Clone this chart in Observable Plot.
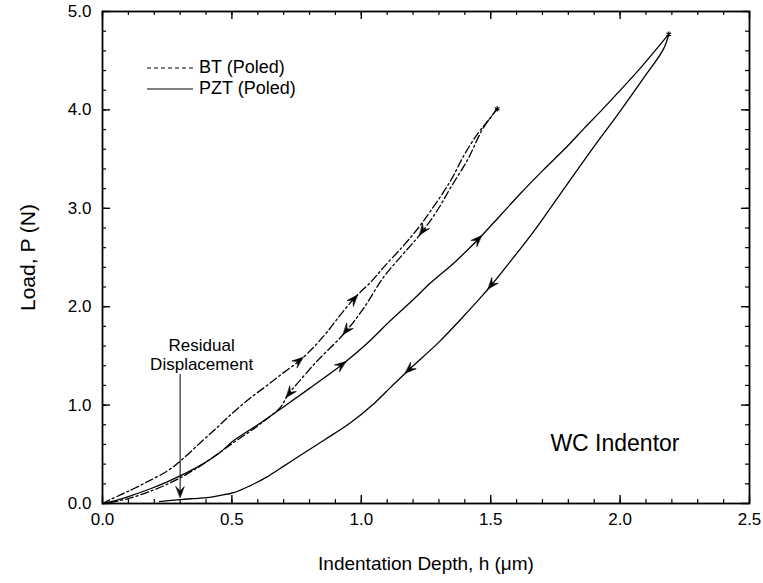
<!DOCTYPE html>
<html><head><meta charset="utf-8">
<script src="https://cdn.jsdelivr.net/npm/d3@7"></script>
<script src="https://cdn.jsdelivr.net/npm/@observablehq/plot@0.6"></script>
<style>
body{margin:0;background:#fff;}
#wrap{position:relative;width:763px;height:583px;font-family:"Liberation Sans",Arial,Helvetica,sans-serif;}
#legend{position:absolute;left:147px;top:57px;font-size:18px;line-height:21px;color:#000;}
#legend div{display:flex;align-items:center;height:21px;}
#legend svg{margin-right:6px;}
</style></head><body><div id="wrap"><div id="legend"></div></div>
<script>
// ---- data ----
const btLoadH = [0, 0.03, 0.08, 0.12, 0.18, 0.25, 0.30, 0.379, 0.45, 0.507, 0.57, 0.636, 0.70, 0.765, 0.82, 0.87, 0.92, 0.978, 1.04, 1.086, 1.163, 1.22, 1.267, 1.345, 1.395, 1.45, 1.493, 1.525];
const btLoadP = [0, 0.04, 0.10, 0.15, 0.23, 0.33, 0.43, 0.62, 0.79, 0.93, 1.07, 1.20, 1.33, 1.46, 1.60, 1.75, 1.92, 2.10, 2.26, 2.40, 2.62, 2.80, 2.97, 3.28, 3.53, 3.76, 3.90, 4.01];
const btUnloadH = [1.525, 1.472, 1.41, 1.345, 1.294, 1.229, 1.163, 1.086, 1.008, 0.931, 0.83, 0.753, 0.715, 0.688, 0.60, 0.507, 0.40, 0.30, 0.20, 0.10, 0.03];
const btUnloadP = [4.01, 3.82, 3.49, 3.21, 2.98, 2.74, 2.54, 2.30, 1.98, 1.72, 1.45, 1.22, 1.10, 0.98, 0.79, 0.62, 0.42, 0.26, 0.14, 0.05, 0.01];
const pztLoadH = [0, 0.05, 0.10, 0.185, 0.25, 0.30, 0.38, 0.45, 0.507, 0.60, 0.688, 0.80, 0.93, 1.02, 1.113, 1.20, 1.267, 1.36, 1.45, 1.538, 1.615, 1.70, 1.80, 1.86, 1.93, 1.99, 2.08, 2.188];
const pztLoadP = [0, 0.03, 0.07, 0.15, 0.22, 0.28, 0.39, 0.51, 0.64, 0.80, 0.96, 1.17, 1.42, 1.62, 1.86, 2.07, 2.24, 2.45, 2.68, 2.93, 3.15, 3.38, 3.64, 3.81, 4.00, 4.17, 4.43, 4.77];
const pztUnloadH = [2.188, 2.168, 2.09, 1.99, 1.897, 1.77, 1.665, 1.564, 1.50, 1.46, 1.38, 1.30, 1.18, 1.113, 1.055, 0.958, 0.86, 0.765, 0.70, 0.636, 0.57, 0.507, 0.45, 0.405, 0.35, 0.30, 0.22];
const pztUnloadP = [4.77, 4.62, 4.32, 3.95, 3.62, 3.15, 2.76, 2.42, 2.21, 2.09, 1.86, 1.64, 1.35, 1.18, 1.03, 0.82, 0.65, 0.49, 0.38, 0.27, 0.18, 0.11, 0.08, 0.06, 0.05, 0.04, 0.02];

// direction arrowheads: which curve, depth of the arrow tip
const arrowCurve = ["btLoad", "btLoad", "btUnload", "btUnload", "btUnload", "pztLoad", "pztLoad", "pztUnload", "pztUnload"];
const arrowH = [0.775, 0.985, 1.225, 0.93, 0.71, 0.94, 1.465, 1.49, 1.17];

const xTicks = [0, 0.5, 1.0, 1.5, 2.0, 2.5];
const yTicks = [0, 1, 2, 3, 4, 5];
const xMinor = d3.range(0, 2.5001, 0.1);
const yMinor = d3.range(0, 5.0001, 0.2);

const seriesNames = ["BT (Poled)", "PZT (Poled)"];
const residualText = "Residual\nDisplacement";
const residualTextH = 0.383, residualTextP = 1.36;
const residualH = 0.30, residualP1 = 1.31, residualP2 = 0.06;
const indentorText = "WC Indentor";
const indentorH = 1.98, indentorP = 0.61;

// ---- build tables ----
const W = 763, H = 583, mL = 102, mR = 14, mT = 11, mB = 80;
const innerW = W - mL - mR, innerH = H - mT - mB;
const xDomain = [0, 2.5], yDomain = [0, 5];
const kx = innerW / (xDomain[1] - xDomain[0]), ky = innerH / (yDomain[1] - yDomain[0]);

const zip = (hs, ps, c) => hs.map((h, i) => ({h, p: ps[i], c}));
const btRows = [...zip(btLoadH, btLoadP, "load"), ...zip(btUnloadH, btUnloadP, "unload")];
const pztRows = [...zip(pztLoadH, pztLoadP, "load"), ...zip(pztUnloadH, pztUnloadP, "unload")];
const curves = {
  btLoad: [btLoadH, btLoadP], btUnload: [btUnloadH, btUnloadP],
  pztLoad: [pztLoadH, pztLoadP], pztUnload: [pztUnloadH, pztUnloadP]
};
const arrows = arrowH.map((h, i) => {
  const [hs, ps] = curves[arrowCurve[i]];
  const f = d3.scaleLinear().domain(hs).range(ps);
  const back = arrowCurve[i].endsWith("Unload") ? 0.04 : -0.04; // travel direction
  const p = f(h), pb = f(h + back);
  const dxp = (h - (h + back)) * kx, dyp = -(p - pb) * ky;
  const rot = Math.atan2(dxp, -dyp) * 180 / Math.PI;
  return {h, p, rot};
});
const peaks = [{h: btLoadH.at(-1), p: btLoadP.at(-1)}, {h: pztLoadH.at(-1), p: pztLoadP.at(-1)}];

// barbed, filled arrowhead drawn with the tip at the anchor point
const headShape = {
  draw(context, l) {
    context.moveTo(0, -l);
    context.lineTo(-4.2, 0);
    context.lineTo(0, -l * 0.4);
    context.lineTo(4.2, 0);
    context.closePath();
  }
};

const fmt = d3.format(".1f");
const font = "Liberation Sans, Arial, Helvetica, sans-serif";

const chart = Plot.plot({
  width: W, height: H,
  marginLeft: mL, marginRight: mR, marginTop: mT, marginBottom: mB,
  style: {fontFamily: font, background: "white", color: "black"},
  x: {domain: xDomain},
  y: {domain: yDomain},
  marks: [
    Plot.axisX({ticks: xTicks, tickSize: 0, tickPadding: 9, tickFormat: fmt, fontSize: 17, label: null}),
    Plot.axisY({ticks: yTicks, tickSize: 0, tickPadding: 11, tickFormat: fmt, fontSize: 17, label: null}),
    // inward ticks on all four sides
    Plot.tickX(xMinor, {x: d => d, insetTop: innerH - 4, stroke: "black", strokeWidth: 1.2}),
    Plot.tickX(xMinor, {x: d => d, insetBottom: innerH - 4, stroke: "black", strokeWidth: 1.2}),
    Plot.tickX(xTicks, {x: d => d, insetTop: innerH - 8, stroke: "black", strokeWidth: 1.4}),
    Plot.tickX(xTicks, {x: d => d, insetBottom: innerH - 8, stroke: "black", strokeWidth: 1.4}),
    Plot.tickY(yMinor, {y: d => d, insetRight: innerW - 4, stroke: "black", strokeWidth: 1.2}),
    Plot.tickY(yMinor, {y: d => d, insetLeft: innerW - 4, stroke: "black", strokeWidth: 1.2}),
    Plot.tickY(yTicks, {y: d => d, insetRight: innerW - 8, stroke: "black", strokeWidth: 1.4}),
    Plot.tickY(yTicks, {y: d => d, insetLeft: innerW - 8, stroke: "black", strokeWidth: 1.4}),
    // curves
    Plot.line(btRows, {x: "h", y: "p", z: "c", stroke: "black", strokeWidth: 1.3, strokeDasharray: "8,3,2,3", curve: "catmull-rom"}),
    Plot.line(pztRows, {x: "h", y: "p", z: "c", stroke: "black", strokeWidth: 1.3, curve: "catmull-rom"}),
    Plot.dot(peaks, {x: "h", y: "p", symbol: "asterisk", r: 2.5, stroke: "black", strokeWidth: 1.2}),
    Plot.vector(arrows, {x: "h", y: "p", rotate: "rot", length: 11, anchor: "end", shape: headShape, fill: "black", stroke: "black", strokeWidth: 0.6}),
    // annotations
    Plot.text([residualText], {x: residualTextH, y: residualTextP, text: d => d, lineAnchor: "bottom", fontSize: 17, lineHeight: 1.12, fill: "black"}),
    Plot.ruleX([residualH], {y1: residualP1, y2: residualP2 + 0.05, stroke: "black", strokeWidth: 1}),
    Plot.vector([0], {x: residualH, y: residualP2, rotate: 180, length: 11, anchor: "end", shape: headShape, fill: "black", stroke: "black", strokeWidth: 0.6}),
    Plot.text([indentorText], {x: indentorH, y: indentorP, text: d => d, fontSize: 23, fill: "black"}),
    // axis titles
    Plot.text(["Indentation Depth, h (\u03bcm)"], {frameAnchor: "bottom", dy: 66, fontSize: 19, fill: "black"}),
    Plot.text(["Load, P (N)"], {frameAnchor: "left", dx: -74, rotate: -90, textAnchor: "middle", fontSize: 21, fill: "black"}),
    Plot.frame({stroke: "black", strokeWidth: 1.8})
  ]
});
document.getElementById("wrap").prepend(chart);

// legend overlay
const legend = document.getElementById("legend");
const dashes = ["4,3", null];
seriesNames.forEach((name, i) => {
  const row = document.createElement("div");
  row.innerHTML = `<svg width="46" height="4"><line x1="0" y1="2" x2="46" y2="2" stroke="black" stroke-width="1.2" ${dashes[i] ? `stroke-dasharray="4,3"` : ""}/></svg><span>${name}</span>`;
  legend.appendChild(row);
});
</script>
</body></html>
